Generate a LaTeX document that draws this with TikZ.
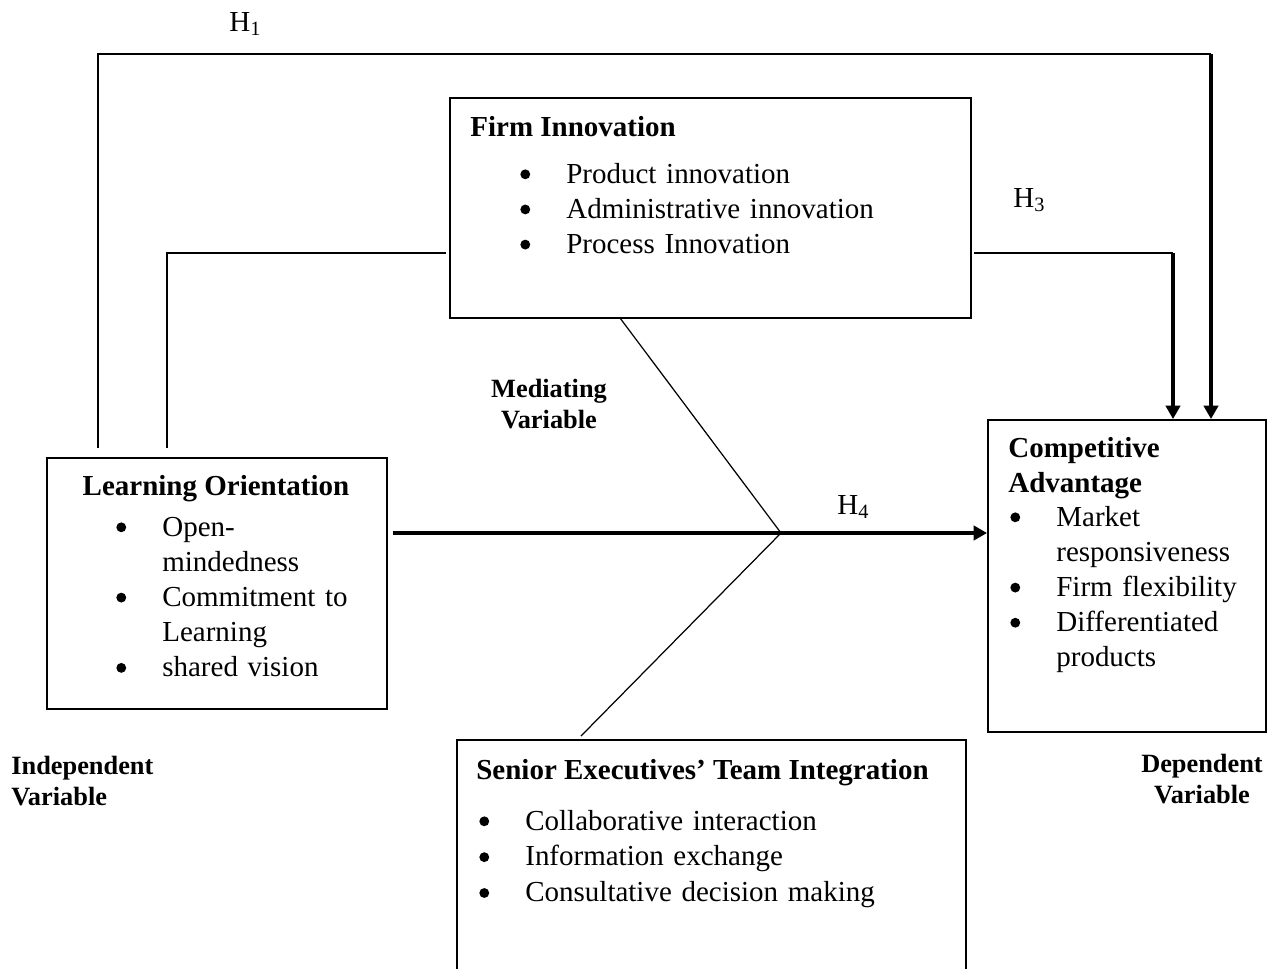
\documentclass[tikz,border=0pt]{standalone}
\usepackage{fontspec}
\setmainfont{Liberation Serif}
\usetikzlibrary{arrows.meta}

\newcommand{\blt}{\tikz[baseline=0pt]\fill (0.17em,0.3em) circle (0.17em);}
\newcommand{\itm}[1]{\makebox[0.92cm][l]{\blt}#1}
\newcommand{\cnt}[1]{\makebox[0.92cm][l]{}#1}

\tikzset{
	box/.style={draw, line width=1pt, inner sep=0pt, anchor=north west},
	head/.style={font=\fontsize{16.5}{20}\selectfont\bfseries, inner sep=0pt, anchor=base west},
	items/.style={font=\fontsize{16.5}{20}\selectfont, inner sep=0pt, anchor=base west, text width=8.5cm, align=left},
	varlabel/.style={font=\fontsize{15}{18}\selectfont\bfseries, inner sep=0pt, text width=3.2cm},
	hlabel/.style={font=\fontsize{16.5}{20}\selectfont, inner sep=0pt, anchor=base west},
	link/.style={line width=0.7pt},
	hyp/.style={line width=1.8pt, -{Triangle[length=2.7mm,width=2.9mm]}}
}

\begin{document}
\begin{tikzpicture}[x=0.02cm, y=-0.02cm]
	\useasboundingbox (0,0) rectangle (1281,968);

	\node[box, minimum width=10.42cm, minimum height=4.4cm] (fi) at (449,97) {};
	\node[box, minimum width=6.8cm, minimum height=5.02cm] (lo) at (46,457) {};
	\node[box, minimum width=5.56cm, minimum height=6.24cm] (ca) at (987,419) {};
	\node[box, minimum width=10.18cm, minimum height=5.4cm] (se) at (456,739) {};

	\node[head] (fihead) at (470,136) {Firm Innovation};
	\node[items] (filist) at (520,183) {\itm{Product innovation}\\ \itm{Administrative innovation}\\ \itm{Process Innovation}};

	\node[head, anchor=base] (lohead) at (216,495) {Learning Orientation};
	\node[items] (lolist) at (116,536) {\itm{Open-}\\ \cnt{mindedness}\\ \itm{Commitment to}\\ \cnt{Learning}\\ \itm{shared vision}};

	\node[head, text width=5cm, align=left] (cahead) at (1008,457) {Competitive\\Advantage};
	\node[items] (calist) at (1010,526) {\itm{Market}\\ \cnt{responsiveness}\\ \itm{Firm flexibility}\\ \itm{Differentiated}\\ \cnt{products}};

	\node[head] (sehead) at (476,779) {Senior Executives’ Team Integration};
	\node[items, font=\fontsize{16.5}{20.4}\selectfont] (selist) at (479,830) {\itm{Collaborative interaction}\\ \itm{Information exchange}\\ \itm{Consultative decision making}};

	\node[varlabel, anchor=base west, align=left] (indep) at (11,774) {Independent\\Variable};
	\node[varlabel, anchor=base, align=center] (dep) at (1202,772) {Dependent\\Variable};
	\node[varlabel, anchor=base, align=center] (medi) at (549,397) {Mediating\\Variable};

	\node[hlabel] (h1) at (229,31) {H\textsubscript{1}};
	\node[hlabel] (h3) at (1013,207) {H\textsubscript{3}};
	\node[hlabel] (h4) at (837,514) {H\textsubscript{4}};

	% H1
	\coordinate (h1s) at (98,448);
	\coordinate (h1c) at (1211,54);
	\draw[link, line width=0.9pt] (h1s) |- (h1c);
	\draw[hyp] (h1c) -- (h1c |- ca.north);

	% learning orientation to innovation
	\coordinate (h2s) at (167,448);
	\coordinate (h2e) at (446,253);
	\draw[link, line width=0.9pt] (h2s) |- (h2e);

	% H3
	\coordinate (h3s) at (974,253);
	\coordinate (h3c) at (1173,253);
	\draw[link] (h3s) -- (h3c);
	\draw[hyp] (h3c) -- (h3c |- ca.north);

	% H4 and mediation
	\coordinate (h4s) at (393,533);
	\coordinate (med) at (781,533);
	\coordinate (fib) at (620,318);
	\coordinate (seb) at (581,736);
	\draw[hyp] (h4s) -- (ca.west |- med);
	\draw[link] (fib) -- (med) -- (seb);
\end{tikzpicture}
\end{document}
